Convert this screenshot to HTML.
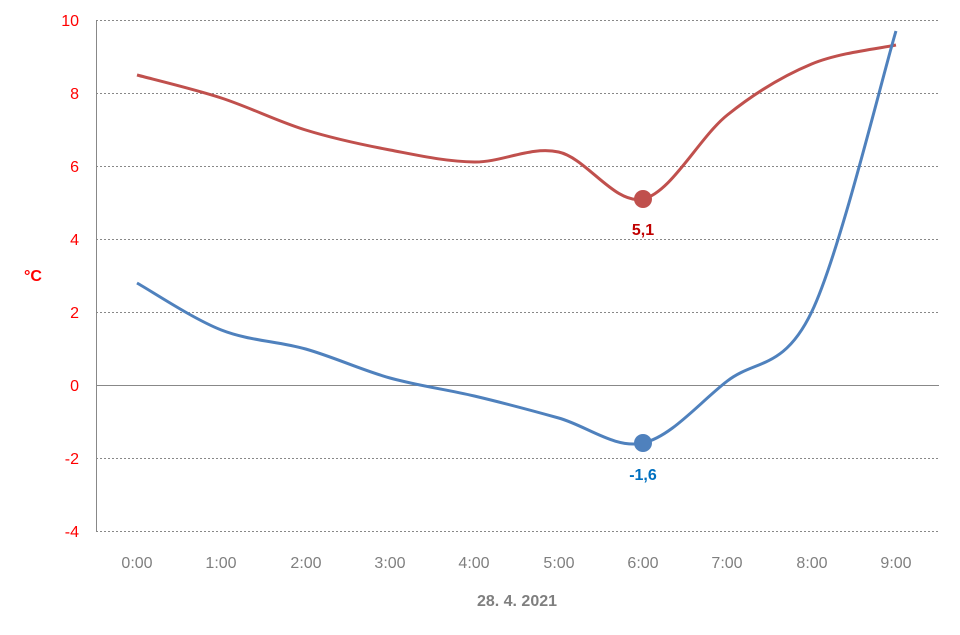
<!DOCTYPE html>
<html><head><meta charset="utf-8"><style>
html,body{margin:0;padding:0;background:#fff;}
svg{display:block;font-family:"Liberation Sans",sans-serif;}
</style></head><body>
<svg id="s" width="960" height="635" viewBox="0 0 960 635" xmlns="http://www.w3.org/2000/svg">
<g stroke="#888" stroke-width="1" stroke-dasharray="2,2">
<line x1="96" x2="939" y1="20.5" y2="20.5"/>
<line x1="96" x2="939" y1="93.5" y2="93.5"/>
<line x1="96" x2="939" y1="166.5" y2="166.5"/>
<line x1="96" x2="939" y1="239.5" y2="239.5"/>
<line x1="96" x2="939" y1="312.5" y2="312.5"/>
<line x1="96" x2="939" y1="458.5" y2="458.5"/>
<line x1="96" x2="939" y1="531.5" y2="531.5"/>
</g>
<line x1="96" x2="939" y1="385.5" y2="385.5" stroke="#888"/>
<line x1="96.5" x2="96.5" y1="20" y2="532" stroke="#888"/>
<g fill="#ff0000" font-size="16" text-anchor="end">
<text x="79" y="26">10</text><text x="79" y="99">8</text><text x="79" y="172">6</text>
<text x="79" y="245">4</text><text x="79" y="318">2</text><text x="79" y="391">0</text>
<text x="79" y="464">-2</text><text x="79" y="537">-4</text>
</g>
<text x="33" y="281" fill="#ff0000" font-size="16" font-weight="bold" text-anchor="middle">°C</text>
<g fill="#7f7f7f" font-size="16" text-anchor="middle">
<text x="137" y="568">0:00</text><text x="221" y="568">1:00</text><text x="306" y="568">2:00</text>
<text x="390" y="568">3:00</text><text x="474" y="568">4:00</text><text x="559" y="568">5:00</text>
<text x="643" y="568">6:00</text><text x="727" y="568">7:00</text><text x="812" y="568">8:00</text>
<text x="896" y="568">9:00</text>
</g>
<text x="517" y="606" fill="#7f7f7f" font-size="16" font-weight="bold" text-anchor="middle">28. 4. 2021</text>
<path id="red" fill="none" stroke="#c0504d" stroke-width="3"/>
<path id="blue" fill="none" stroke="#4f81bd" stroke-width="3"/>
<circle cx="643" cy="199" r="9" fill="#c0504d"/>
<circle cx="643" cy="443" r="9" fill="#4f81bd"/>
<text x="643" y="235" fill="#c00000" font-size="16" font-weight="bold" text-anchor="middle">5,1</text>
<text x="643" y="480" fill="#0070c0" font-size="16" font-weight="bold" text-anchor="middle">-1,6</text>
</svg>
<script>
function P(ys){var pts=ys.map(function(y,i){return [137+i*84.33,y];});
var d="M"+pts[0][0]+","+pts[0][1];
for(var i=0;i<pts.length-1;i++){var p0=pts[i-1]||pts[i],p1=pts[i],p2=pts[i+1],p3=pts[i+2]||p2;var t=6;
d+=" C"+(p1[0]+(p2[0]-p0[0])/t)+","+(p1[1]+(p2[1]-p0[1])/t)+" "+(p2[0]-(p3[0]-p1[0])/t)+","+(p2[1]-(p3[1]-p1[1])/t)+" "+p2[0]+","+p2[1];}
return d;}
document.getElementById("red").setAttribute("d",P([75,98,130,150,162,152,199,115,64,45]));
document.getElementById("blue").setAttribute("d",P([283,330,349,378,396,418,443,381,312,31]));
</script>
</body></html>
